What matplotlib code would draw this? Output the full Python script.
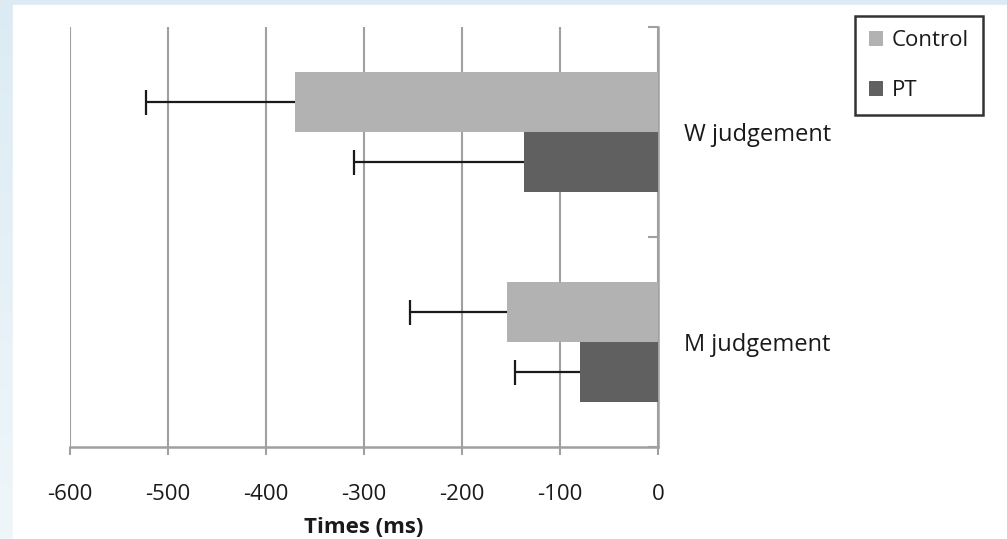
import matplotlib.pyplot as plt
import numpy as np
from matplotlib.patches import Rectangle

# ===== Data =====
categories = ["W judgement", "M judgement"]
control_means = [-370, -154]
control_err = [152, 99]
pt_means = [-137, -80]
pt_err = [173, 66]

plt.rcParams["font.family"] = ["Open Sans", "DejaVu Sans"]
plt.rcParams["axes.unicode_minus"] = False

fig = plt.figure(figsize=(10.07, 5.39), dpi=100)

# ===== Background: pale blue frame with white panel =====
bg = fig.add_axes([0, 0, 1, 1], zorder=-10)
grad = np.linspace(0, 1, 256).reshape(-1, 1)
top_c = np.array([0.863, 0.922, 0.953])
bot_c = np.array([0.937, 0.965, 0.980])
img = top_c + (bot_c - top_c) * grad[:, :, None]
bg.imshow(img, aspect="auto", extent=[0, 1, 0, 1], origin="upper")
bg.add_patch(Rectangle((13 / 1007, 0), 1, 1 - 5 / 539, color="white"))
bg.set_xlim(0, 1)
bg.set_ylim(0, 1)
bg.axis("off")

ax = fig.add_axes([70 / 1007, 1 - 447 / 539, 588 / 1007, 420 / 539])
ax.set_facecolor("none")

y = np.arange(len(categories))
h = 0.2857

grid_c = "#a0a0a0"
txt_c = "#1a1a1a"
bars_c = ax.barh(y - h / 2, control_means, height=h, color="#b2b2b2", label="Control", zorder=3)
bars_p = ax.barh(y + h / 2, pt_means, height=h, color="#606060", label="PT", zorder=3)


def one_sided_err(means, errs, ypos):
    # error bar drawn only on the side away from zero, cap only at the far end
    _, caps, _ = ax.errorbar(means, ypos, xerr=[errs, [0] * len(errs)],
                             fmt="none", ecolor=txt_c, elinewidth=1.6,
                             capsize=9, capthick=1.6, zorder=2)
    for cap in caps:
        if np.allclose(cap.get_xdata(), means):
            cap.set_visible(False)


one_sided_err(control_means, control_err, y - h / 2)
one_sided_err(pt_means, pt_err, y + h / 2)

ax.set_xlim(-600, 0)
ax.set_ylim(1.5, -0.5)

ax.set_xticks(range(-600, 1, 100))
ax.xaxis.grid(True, color=grid_c, linewidth=1.5, zorder=0)
ax.tick_params(axis="x", direction="out", length=6, width=1.5, color=grid_c,
               pad=21, labelsize=16, labelcolor=txt_c)

# categories on the right-hand axis
ax.yaxis.tick_right()
ax.set_yticks(y)
ax.set_yticklabels(categories)
ax.tick_params(axis="y", which="major", length=0, pad=19, labelsize=17, labelcolor=txt_c)
ax.set_yticks([-0.5, 0.5, 1.5], minor=True)
ax.tick_params(axis="y", which="minor", direction="in", length=7, width=1.5, color=grid_c)

for side in ["top", "left"]:
    ax.spines[side].set_visible(False)
for side in ["right", "bottom"]:
    ax.spines[side].set_color(grid_c)
    ax.spines[side].set_linewidth(1.8)

ax.set_xlabel("Times (ms)", fontsize=16, fontweight="bold", color=txt_c, labelpad=8)

leg = fig.legend(handles=[bars_c, bars_p], loc="upper left",
                 bbox_to_anchor=(855 / 1007, 1 - 16 / 539), borderaxespad=0,
                 fontsize=16, frameon=True, fancybox=False, handlelength=0.64,
                 handleheight=0.64, handletextpad=0.36, labelspacing=1.3,
                 borderpad=0.64)
leg.get_frame().set_edgecolor("black")
leg.get_frame().set_linewidth(1.8)
for t in leg.get_texts():
    t.set_color(txt_c)

fig.savefig("out.png", dpi=100)
